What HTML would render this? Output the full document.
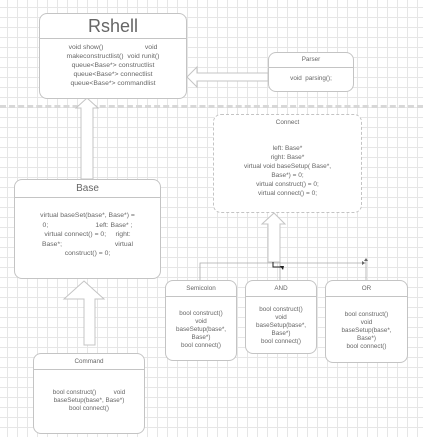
<!DOCTYPE html>
<html><head><style>
body{margin:0;width:423px;height:437px;overflow:hidden;background:#fff;
background-image:linear-gradient(#e6e6e6 1px,transparent 1px),linear-gradient(90deg,#e6e6e6 1px,transparent 1px);
background-size:10px 10px;background-position:7px 7px;font-family:"Liberation Sans",sans-serif;color:#666;position:relative}
.b{position:absolute;background:#fff;border:1px solid #c4c4c4;border-radius:8px;box-sizing:border-box;text-align:center;font-size:6.3px;line-height:8px}
.h{border-bottom:1px solid #c4c4c4;box-sizing:border-box;display:flex;align-items:center;justify-content:center}
.c{padding:0 4px}
</style></head><body>
<div style="position:absolute;left:0;top:105px;width:423px;height:0;border-top:3px dashed #d8d8d8"></div>
<svg width="423" height="437" style="position:absolute;left:0;top:0">
<g fill="#fff" stroke="#c4c4c4" stroke-width="1">
<polygon points="187,77 197,67 197,73 268,73 268,81 197,81 197,87"/>
<polygon points="87,98 98,108 93,108 93,179 81,179 81,108 76,108"/>
<polygon points="84,281 104,299 95,299 95,345 84,345 84,299 64,299"/>
<polygon points="274,213 285,224 280,224 280,262 268,262 268,224 262,224"/>
</g>
<g fill="none" stroke="#aaa" stroke-width="0.8">
<path d="M200,280 V263 H366"/>
<path d="M366,280 V260"/>
<path d="M280,280 V262"/>
</g>
<path d="M273,262 V267 H283" fill="none" stroke="#222" stroke-width="1"/>
<polygon points="280,266 284,266 283,270" fill="#222"/>
<polygon points="362,261 362,265 365,263" fill="#666"/>
<polygon points="364,261 368,261 366,258" fill="#666"/>
</svg>
<div class="b" style="left:39px;top:13px;width:148px;height:86px">
<div class="h" style="height:25px;font-size:18px">Rshell</div>
<div class="c" style="padding-top:4px;font-size:6.8px;line-height:9px">void show()&nbsp;&nbsp;&nbsp;&nbsp;&nbsp;&nbsp;&nbsp;&nbsp;&nbsp;&nbsp;&nbsp;&nbsp;&nbsp;&nbsp;&nbsp;&nbsp;&nbsp;&nbsp;&nbsp;&nbsp;&nbsp;&nbsp;void<br>makeconstructlist()&nbsp; void runit()<br>queue&lt;Base*&gt; constructlist<br>queue&lt;Base*&gt; connectlist<br>queue&lt;Base*&gt; commandlist</div></div>
<div class="b" style="left:268px;top:52px;width:86px;height:40px">
<div class="h" style="height:15px">Parser</div><div style="padding-top:7px">void&nbsp; parsing();</div></div>
<div class="b" style="left:213px;top:114px;width:149px;height:99px;border-style:dashed">
<div class="h" style="height:16px;border-color:transparent">Connect</div>
<div class="c" style="padding-top:13px;font-size:6.5px;line-height:9px">left: Base*<br>right: Base*<br>virtual void baseSetup( Base*,<br>Base*) = 0;<br>virtual construct() = 0;<br>virtual connect() = 0;</div></div>
<div class="b" style="left:14px;top:179px;width:147px;height:100px">
<div class="h" style="height:18px;font-size:10px">Base</div>
<div class="c" style="padding:13px 10px 0;font-size:6.8px;line-height:9.5px">virtual baseSet(base*, Base*) =<br>0;&nbsp;&nbsp;&nbsp;&nbsp;&nbsp;&nbsp;&nbsp;&nbsp;&nbsp;&nbsp;&nbsp;&nbsp;&nbsp;&nbsp;&nbsp;&nbsp;&nbsp;&nbsp;&nbsp;&nbsp;&nbsp;&nbsp;&nbsp;&nbsp;&nbsp;1eft: Base* ;<br>virtual connect() = 0;&nbsp;&nbsp;&nbsp;&nbsp; right:<br>Base*;&nbsp;&nbsp;&nbsp;&nbsp;&nbsp;&nbsp;&nbsp;&nbsp;&nbsp;&nbsp;&nbsp;&nbsp;&nbsp;&nbsp;&nbsp;&nbsp;&nbsp;&nbsp;&nbsp;&nbsp;&nbsp;&nbsp;&nbsp;&nbsp;&nbsp;&nbsp;&nbsp;&nbsp;virtual<br>construct() = 0;</div></div>
<div class="b" style="left:33px;top:353px;width:112px;height:81px">
<div class="h" style="height:16px">Command</div>
<div class="c" style="padding-top:19px">bool construct()&nbsp;&nbsp;&nbsp;&nbsp;&nbsp;&nbsp;&nbsp;&nbsp;&nbsp; void<br>baseSetup(base*, Base*)<br>bool connect()</div></div>
<div class="b" style="left:165px;top:280px;width:72px;height:81px">
<div class="h" style="height:16px">Semicolon</div>
<div class="c" style="padding-top:13px">bool construct()<br>void<br>baseSetup(base*,<br>Base*)<br>bool connect()</div></div>
<div class="b" style="left:245px;top:280px;width:72px;height:74px">
<div class="h" style="height:16px">AND</div>
<div class="c" style="padding-top:9px">bool construct()<br>void<br>baseSetup(base*,<br>Base*)<br>bool connect()</div></div>
<div class="b" style="left:325px;top:280px;width:83px;height:83px">
<div class="h" style="height:16px">OR</div>
<div class="c" style="padding-top:14px">bool construct()<br>void<br>baseSetup(base*,<br>Base*)<br>bool connect()</div></div>
</body></html>
